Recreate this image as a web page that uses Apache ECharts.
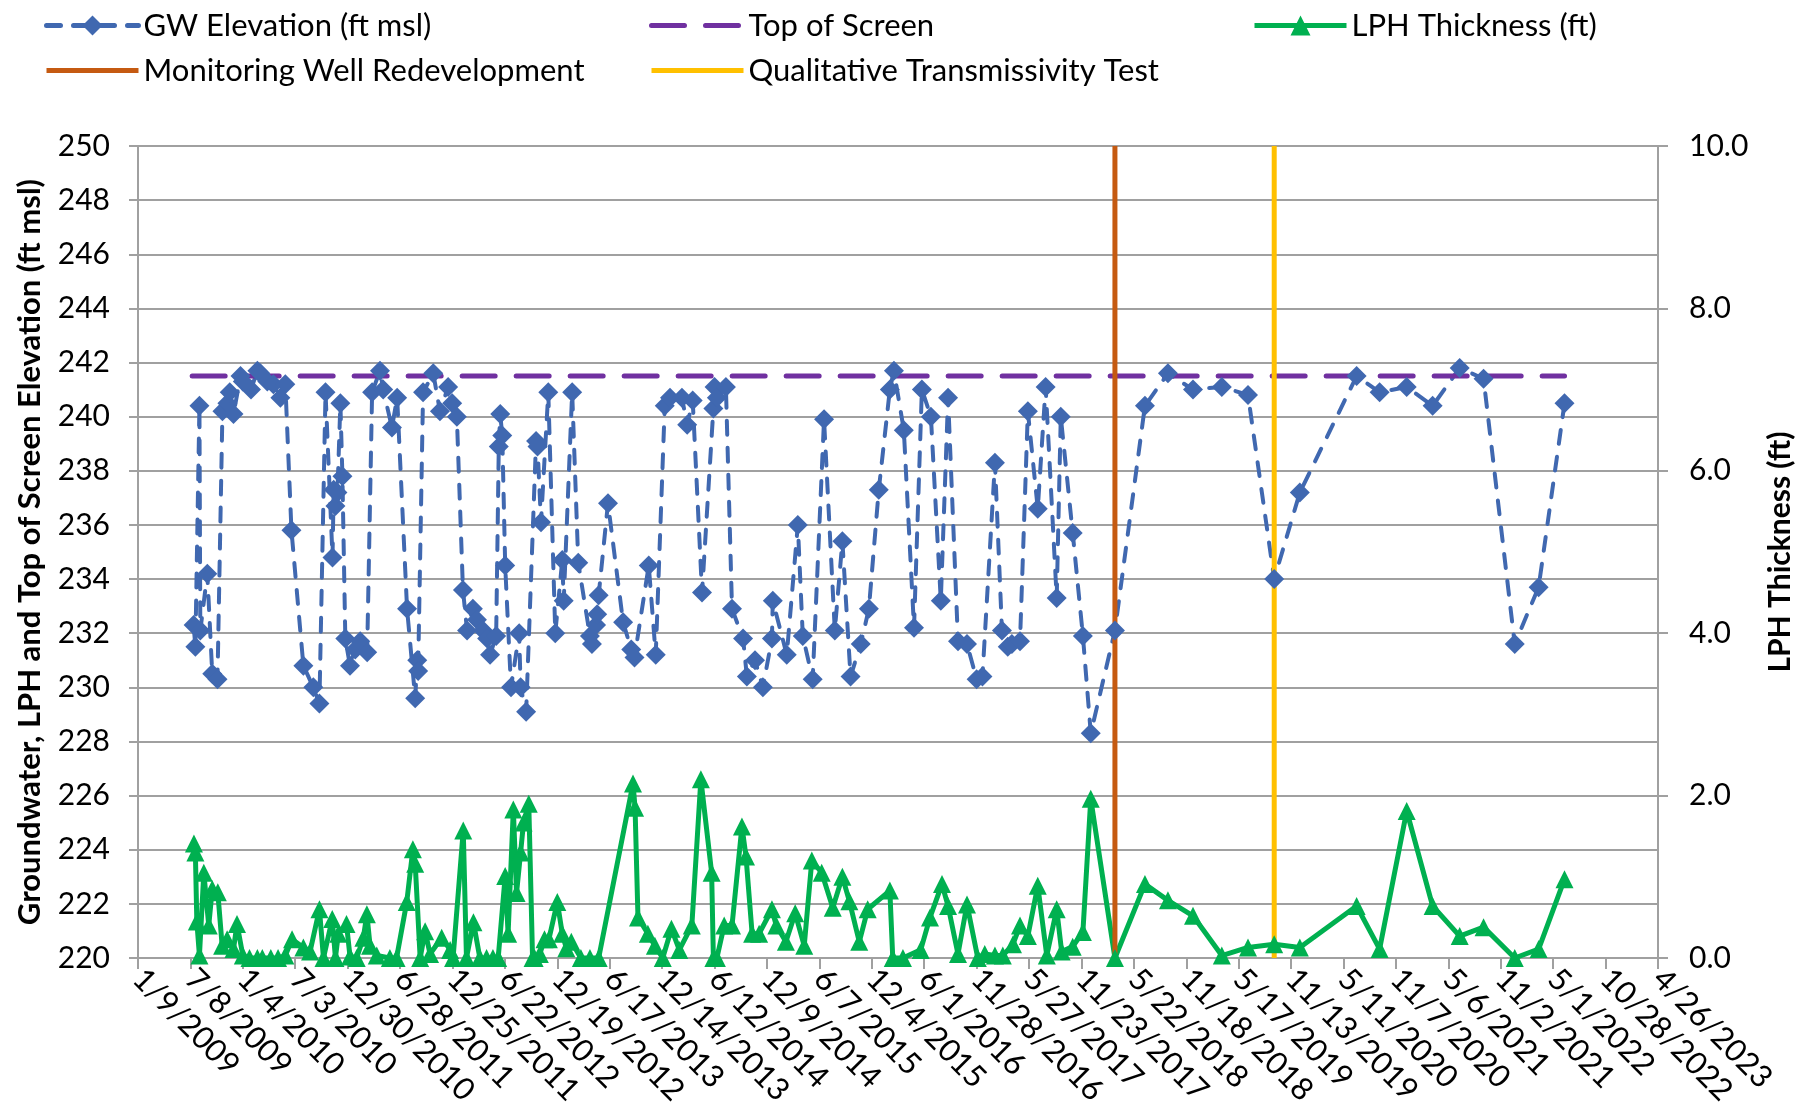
<!DOCTYPE html>
<html>
<head>
<meta charset="utf-8">
<script src="https://cdn.jsdelivr.net/npm/echarts@6/dist/echarts.min.js"></script>
<style>
  html, body { margin: 0; padding: 0; background: #fff; }
  #chart { width: 1797px; height: 1120px; }
</style>
</head>
<body>
<div id="chart"></div>
<script>
// GW elevation readings (ft msl)
const gwDates = [
  '2009-07-19','2009-07-25','2009-08-08','2009-08-11','2009-09-04','2009-09-21','2009-10-09','2009-10-26',
  '2009-11-12','2009-11-20','2009-12-03','2009-12-27','2010-01-04','2010-02-01','2010-02-23','2010-03-05',
  '2010-03-29','2010-04-19','2010-05-13','2010-05-30','2010-06-20','2010-07-31','2010-09-03','2010-09-24',
  '2010-10-15','2010-11-08','2010-11-12','2010-11-18','2010-11-25','2010-12-05','2010-12-12','2010-12-22',
  '2011-01-07','2011-01-25','2011-02-11','2011-03-07','2011-03-24','2011-04-20','2011-05-01','2011-05-31',
  '2011-06-18','2011-07-22','2011-08-19','2011-08-26','2011-08-29','2011-09-15','2011-10-20','2011-11-12',
  '2011-12-10','2011-12-24','2012-01-09','2012-01-30','2012-02-13','2012-03-04','2012-03-18','2012-04-08',
  '2012-04-22','2012-05-02','2012-05-23','2012-06-01','2012-06-06','2012-06-13','2012-06-23','2012-07-13',
  '2012-08-10','2012-08-15','2012-09-03','2012-10-07','2012-10-12','2012-10-24','2012-11-18','2012-12-12',
  '2013-01-05','2013-01-10','2013-02-08','2013-03-01','2013-04-10','2013-04-17','2013-05-01','2013-05-05',
  '2013-05-10','2013-06-11','2013-08-02','2013-08-30','2013-09-10','2013-10-29','2013-11-22','2013-12-23',
  '2014-01-10','2014-02-20','2014-03-10','2014-03-29','2014-04-30','2014-06-08','2014-06-12','2014-06-20',
  '2014-07-21','2014-08-11','2014-09-18','2014-10-01','2014-10-29','2014-11-25','2014-12-26','2014-12-29',
  '2015-02-15','2015-03-25','2015-04-11','2015-05-15','2015-06-23','2015-07-30','2015-08-25','2015-09-22',
  '2015-10-27','2015-11-24','2015-12-28','2016-02-04','2016-02-18','2016-03-23','2016-04-27','2016-05-24',
  '2016-06-24','2016-07-28','2016-08-22','2016-09-25','2016-10-26','2016-11-28','2016-12-18','2017-01-30',
  '2017-02-23','2017-03-15','2017-03-29','2017-04-26','2017-05-23','2017-06-26','2017-07-23','2017-08-30',
  '2017-09-13','2017-10-24','2017-11-28','2017-12-25','2018-03-18','2018-06-29','2018-09-16','2018-12-11',
  '2019-03-20','2019-06-18','2019-09-16','2019-12-13','2020-06-25','2020-09-12','2020-12-14','2021-03-13',
  '2021-06-14','2021-09-04','2021-12-20','2022-03-12','2022-06-09'
];
const gwElev = [
  232.3, 231.5, 240.4, 232.1, 234.2, 230.5, 230.3, 240.2,
  240.5, 240.9, 240.1, 241.5, 241.3, 241.0, 241.7, 241.6,
  241.3, 241.2, 240.7, 241.2, 235.8, 230.8, 230.0, 229.4,
  240.9, 234.8, 237.3, 236.7, 237.2, 240.5, 237.8, 231.8,
  230.8, 231.4, 231.7, 231.3, 240.9, 241.7, 241.0, 239.6,
  240.7, 232.9, 229.6, 231.0, 230.6, 240.9, 241.6, 240.2,
  241.1, 240.5, 240.0, 233.6, 232.1, 232.9, 232.5, 232.1,
  231.8, 231.2, 231.9, 238.9, 240.1, 239.3, 234.5, 230.0,
  232.0, 230.0, 229.1, 239.1, 238.9, 236.1, 240.9, 232.0,
  234.7, 233.2, 240.9, 234.6, 231.9, 231.6, 232.3, 232.7,
  233.4, 236.8, 232.4, 231.4, 231.1, 234.5, 231.2, 240.4,
  240.7, 240.7, 239.7, 240.6, 233.5, 240.3, 241.1, 240.7,
  241.1, 232.9, 231.8, 230.4, 231.0, 230.0, 231.8, 233.2,
  231.2, 236.0, 231.9, 230.3, 239.9, 232.1, 235.4, 230.4,
  231.6, 232.9, 237.3, 241.0, 241.7, 239.5, 232.2, 241.0,
  240.0, 233.2, 240.7, 231.7, 231.6, 230.3, 230.4, 238.3,
  232.1, 231.5, 231.6, 231.7, 240.2, 236.6, 241.1, 233.3,
  240.0, 235.7, 231.9, 228.3, 232.1, 240.4, 241.6, 241.0,
  241.1, 240.8, 234.0, 237.2, 241.5, 240.9, 241.1, 240.4,
  241.8, 241.4, 231.6, 233.7, 240.5
];

// LPH thickness readings (ft)
const lphDates = [
  '2009-07-20','2009-07-25','2009-07-30','2009-08-08','2009-08-23','2009-09-09','2009-09-21','2009-10-10',
  '2009-10-25','2009-11-11','2009-12-03','2009-12-15','2010-01-04','2010-01-27','2010-02-23','2010-03-12',
  '2010-04-10','2010-05-05','2010-05-30','2010-06-22','2010-07-31','2010-08-23','2010-09-24','2010-10-08',
  '2010-11-07','2010-11-18','2010-11-28','2010-12-26','2011-01-07','2011-01-30','2011-02-22','2011-03-06',
  '2011-03-17','2011-04-09','2011-05-24','2011-06-16','2011-07-21','2011-08-11','2011-08-19','2011-09-05',
  '2011-09-22','2011-10-09','2011-11-18','2011-12-17','2011-12-27','2012-01-31','2012-02-11','2012-03-06',
  '2012-03-28','2012-04-20','2012-05-12','2012-05-30','2012-06-23','2012-07-03','2012-07-21','2012-08-01',
  '2012-08-15','2012-08-25','2012-09-12','2012-09-25','2012-10-02','2012-10-20','2012-11-05','2012-11-20',
  '2012-12-19','2013-01-05','2013-01-19','2013-02-05','2013-03-10','2013-04-10','2013-05-10','2013-09-05',
  '2013-09-12','2013-09-22','2013-10-26','2013-11-19','2013-12-16','2014-01-15','2014-02-11','2014-03-26',
  '2014-04-26','2014-06-02','2014-06-08','2014-06-20','2014-07-15','2014-08-11','2014-09-14','2014-09-28',
  '2014-10-19','2014-11-12','2014-12-26','2015-01-10','2015-02-12','2015-03-16','2015-04-16','2015-05-12',
  '2015-06-15','2015-07-23','2015-08-25','2015-09-18','2015-10-22','2015-11-20','2016-02-04','2016-02-14',
  '2016-03-20','2016-05-20','2016-06-21','2016-08-01','2016-08-22','2016-09-25','2016-10-26','2016-12-02',
  '2016-12-26','2017-01-30','2017-02-26','2017-04-02','2017-04-26','2017-05-23','2017-06-26','2017-07-27',
  '2017-08-30','2017-09-16','2017-10-24','2017-11-28','2017-12-25','2018-03-18','2018-06-29','2018-09-16',
  '2018-12-11','2019-03-20','2019-06-18','2019-09-16','2019-12-13','2020-06-25','2020-09-12','2020-12-14',
  '2021-03-13','2021-06-14','2021-09-04','2021-12-20','2022-03-12','2022-06-09'
];
const lphThick = [
  1.41, 1.30, 0.45, 0.03, 1.05, 0.40, 0.85, 0.81,
  0.15, 0.23, 0.11, 0.42, 0.03, 0.00, 0.00, 0.00,
  0.00, 0.00, 0.03, 0.23, 0.13, 0.08, 0.60, 0.00,
  0.48, 0.00, 0.30, 0.42, 0.02, 0.00, 0.25, 0.54,
  0.15, 0.03, 0.00, 0.00, 0.69, 1.34, 1.16, 0.00,
  0.33, 0.05, 0.25, 0.10, 0.00, 1.57, 0.00, 0.44,
  0.00, 0.00, 0.00, 0.00, 1.01, 0.30, 1.83, 0.80,
  1.30, 1.67, 1.90, 0.00, 0.00, 0.05, 0.23, 0.23,
  0.69, 0.30, 0.12, 0.20, 0.00, 0.00, 0.00, 2.15,
  1.85, 0.50, 0.30, 0.15, 0.00, 0.36, 0.10, 0.40,
  2.20, 1.05, 0.00, 0.00, 0.40, 0.40, 1.62, 1.25,
  0.30, 0.30, 0.60, 0.40, 0.20, 0.55, 0.15, 1.20,
  1.05, 0.62, 1.00, 0.70, 0.20, 0.60, 0.83, 0.00,
  0.00, 0.10, 0.50, 0.91, 0.64, 0.05, 0.66, 0.00,
  0.05, 0.03, 0.03, 0.17, 0.40, 0.27, 0.89, 0.03,
  0.60, 0.08, 0.14, 0.32, 1.96, 0.00, 0.91, 0.71,
  0.52, 0.03, 0.13, 0.17, 0.13, 0.64, 0.11, 1.81,
  0.64, 0.27, 0.38, 0.00, 0.11, 0.97
];

const topOfScreen = 241.5;
const screenSpan = ['2009-07-14', '2022-06-09'];
const redevDate = '2018-03-18';
const transTestDate = '2019-09-16';

// axis: days counted from the first tick, ticks every 180 days
const axisStart = '2009-01-09';
const axisDays = 5220;
const tickDays = 180;

const DAY = 86400000;
const ORIGIN = Date.UTC(2009, 0, 9);

function toDay(s) {
  const p = s.split('-').map(Number);
  return Math.round((Date.UTC(p[0], p[1] - 1, p[2]) - ORIGIN) / DAY);
}
function fmtDate(v) {
  const dt = new Date(ORIGIN + v * DAY);
  return (dt.getUTCMonth() + 1) + '/' + dt.getUTCDate() + '/' + dt.getUTCFullYear();
}

const FONT = 'Lato';
const GRID_COLOR = '#A0A0A0';

const chart = echarts.init(document.getElementById('chart'));

function legendItem(name, left, top, noSymbol) {
  const item = {
    data: [name],
    left: left,
    top: top,
    padding: 0,
    itemWidth: 92,
    itemHeight: 25,
    selectedMode: false,
    textStyle: { fontFamily: FONT, fontSize: 31, color: '#000' },
    lineStyle: { width: 5 }
  };
  if (noSymbol) item.itemStyle = { opacity: 0 };
  return item;
}

const option = {
  animation: false,
  backgroundColor: '#fff',
  legend: [
    legendItem('GW Elevation (ft msl)', 44, 10),
    legendItem('Top of Screen', 649, 10, true),
    legendItem('LPH Thickness (ft)', 1252, 10),
    legendItem('Monitoring Well Redevelopment', 44, 55, true),
    legendItem('Qualitative Transmissivity Test', 649, 55, true)
  ],
  grid: {
    left: 138,
    right: 139,
    top: 146,
    bottom: 162,
    outerBoundsMode: 'none'
  },
  xAxis: {
    type: 'value',
    min: toDay(axisStart),
    max: axisDays,
    interval: tickDays,
    splitLine: { show: false },
    axisLine: { show: true, onZero: false, lineStyle: { color: GRID_COLOR, width: 2 } },
    axisTick: { show: true, length: 11, lineStyle: { color: GRID_COLOR, width: 2 } },
    axisLabel: {
      rotate: -45,
      margin: 16,
      fontFamily: FONT,
      fontSize: 31,
      color: '#000',
      showMinLabel: true,
      showMaxLabel: true,
      formatter: fmtDate
    }
  },
  yAxis: [
    {
      type: 'value',
      min: 220,
      max: 250,
      interval: 2,
      name: 'Groundwater, LPH and Top of Screen Elevation (ft msl)',
      nameLocation: 'middle',
      nameGap: 93,
      nameTextStyle: { fontFamily: FONT, fontSize: 31, fontWeight: 'bold', color: '#000' },
      splitLine: { show: true, lineStyle: { color: GRID_COLOR, width: 2 } },
      axisLine: { show: true, lineStyle: { color: GRID_COLOR, width: 2 } },
      axisTick: { show: true, length: 9, lineStyle: { color: GRID_COLOR, width: 2 } },
      axisLabel: { margin: 28, fontFamily: FONT, fontSize: 30, color: '#000' }
    },
    {
      type: 'value',
      position: 'right',
      min: 0,
      max: 10,
      interval: 2,
      name: 'LPH Thickness (ft)',
      nameLocation: 'middle',
      nameGap: 107,
      nameTextStyle: { fontFamily: FONT, fontSize: 30, fontWeight: 'bold', color: '#000' },
      splitLine: { show: false },
      axisLine: { show: true, lineStyle: { color: GRID_COLOR, width: 2 } },
      axisTick: { show: true, length: 10, lineStyle: { color: GRID_COLOR, width: 2 } },
      axisLabel: {
        margin: 31,
        fontFamily: FONT,
        fontSize: 30,
        color: '#000',
        formatter: v => v.toFixed(1)
      }
    }
  ],
  series: [
    {
      name: 'GW Elevation (ft msl)',
      type: 'line',
      yAxisIndex: 0,
      data: gwDates.map((d, i) => [toDay(d), gwElev[i]]),
      symbol: 'diamond',
      symbolSize: 20,
      itemStyle: { color: '#4068B0' },
      lineStyle: { color: '#4068B0', width: 4, type: [14, 13], cap: 'round' },
      silent: true
    },
    {
      name: 'Top of Screen',
      type: 'line',
      yAxisIndex: 0,
      data: screenSpan.map(d => [toDay(d), topOfScreen]),
      symbol: 'none',
      itemStyle: { color: '#7030A0' },
      lineStyle: { color: '#7030A0', width: 5, type: [33, 21], cap: 'round' },
      silent: true
    },
    {
      name: 'LPH Thickness (ft)',
      type: 'line',
      yAxisIndex: 1,
      data: lphDates.map((d, i) => [toDay(d), lphThick[i]]),
      symbol: 'triangle',
      symbolSize: 18,
      itemStyle: { color: '#00B050' },
      lineStyle: { color: '#00B050', width: 5 },
      silent: true
    },
    {
      name: 'Monitoring Well Redevelopment',
      type: 'line',
      yAxisIndex: 0,
      data: [[toDay(redevDate), 220], [toDay(redevDate), 250]],
      symbol: 'none',
      itemStyle: { color: '#C55A11' },
      lineStyle: { color: '#C55A11', width: 5 },
      silent: true
    },
    {
      name: 'Qualitative Transmissivity Test',
      type: 'line',
      yAxisIndex: 0,
      data: [[toDay(transTestDate), 220], [toDay(transTestDate), 250]],
      symbol: 'none',
      itemStyle: { color: '#FFC000' },
      lineStyle: { color: '#FFC000', width: 5 },
      silent: true
    }
  ]
};

chart.setOption(option);
</script>
</body>
</html>
